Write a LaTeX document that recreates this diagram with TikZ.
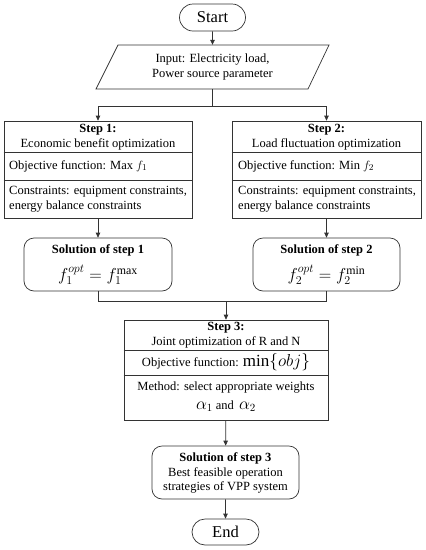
\documentclass[tikz,border=0pt]{standalone}
\usepackage{fontspec}
\setmainfont{Liberation Serif}
\usetikzlibrary{arrows.meta,shapes.misc}
\begin{document}
\begin{tikzpicture}[x=1pt,y=-1pt, font=\fontsize{12.5}{14.5}\selectfont,
  line/.style={draw=black!80, line width=0.7pt},
  arr/.style={line, -{Triangle[length=5pt,width=4.5pt]}},
  term/.style={line, rounded rectangle, inner sep=0pt, font=\fontsize{16.5}{18}\selectfont},
  box/.style={line, rectangle, inner sep=0pt},
  rbox/.style={line, rectangle, rounded corners=10pt, inner sep=0pt},
  txt/.style={inner sep=0pt, align=center},
  ltxt/.style={inner sep=0pt, align=left, anchor=west},
  mth/.style={inner sep=0pt, font=\fontsize{17}{19}\selectfont},
]
\useasboundingbox (0,0) rectangle (426,550);

% Start
\node[term, minimum width=66pt, minimum height=27pt] (start) at (212.5,17.5) {Start};

% Input
\node[txt, minimum height=44pt, minimum width=190pt] (inp) at (212.5,67) {Input: Electricity load,\\Power source parameter};
\draw[line] (118,45) -- (329,45) -- (308,89) -- (96,89) -- cycle;
\draw[arr] (start) -- (inp);

% Step 1 and Step 2 boxes
\node[box, minimum width=188pt, minimum height=97pt] (s1) at (98,169.5) {};
\node[box, minimum width=189pt, minimum height=97pt] (s2) at (326.5,169.5) {};
\draw[line] (s1.west |- 0,152) -- (s1.east |- 0,152);
\draw[line] (s1.west |- 0,180) -- (s1.east |- 0,180);
\draw[line] (s2.west |- 0,152) -- (s2.east |- 0,152);
\draw[line] (s2.west |- 0,180) -- (s2.east |- 0,180);

\node[txt] (s1a) at (98,137) {\textbf{Step 1:}\\Economic benefit optimization};
\node[ltxt] (s1b) at (9,166) {Objective function: Max $f_1$};
\node[ltxt] (s1c) at (9,199) {Constraints: equipment constraints,\\energy balance constraints};

\node[txt] (s2a) at (326.5,137) {\textbf{Step 2:}\\Load fluctuation optimization};
\node[ltxt] (s2b) at (238,166) {Objective function: Min $f_2$};
\node[ltxt] (s2c) at (238,199) {Constraints: equipment constraints,\\energy balance constraints};

% split
\coordinate (sp) at (212.5,106);
\draw[line] (inp.south) -- (sp);
\draw[arr] (sp) -| (s1);
\draw[arr] (sp) -| (s2);

% Solutions 1 and 2
\node[rbox, minimum width=148pt, minimum height=53pt] (o1) at (98,264.5) {};
\node[rbox, minimum width=147pt, minimum height=53pt] (o2) at (326.5,264.5) {};
\node[txt] (o1a) at (98,250) {\textbf{Solution of step 1}};
\node[mth] (o1b) at (98,275) {$f_1^{opt}=f_1^{\max}$};
\node[txt] (o2a) at (326.5,250) {\textbf{Solution of step 2}};
\node[mth] (o2b) at (326.5,275) {$f_2^{opt}=f_2^{\min}$};
\draw[arr] (s1) -- (o1);
\draw[arr] (s2) -- (o2);

% join
\coordinate (jn) at (226,301);
\draw[line] (o1.south) |- (jn);
\draw[line] (o2.south) |- (jn);

% Step 3
\node[box, minimum width=204pt, minimum height=100pt] (s3) at (226,370) {};
\draw[line] (s3.west |- 0,350) -- (s3.east |- 0,350);
\draw[line] (s3.west |- 0,375) -- (s3.east |- 0,375);
\node[txt] (s3a) at (226,335) {\textbf{Step 3:}\\Joint optimization of R and N};
\node[txt] (s3b) at (226,362) {Objective function: {\fontsize{17}{19}\selectfont $\min\{obj\}$}};
\node[txt] (s3c) at (226,388) {Method: select appropriate weights};
\node[txt] (s3d) at (226,406) {{\fontsize{16}{17}\selectfont $\alpha_1$} and \,{\fontsize{16}{17}\selectfont $\alpha_2$}};
\draw[arr] (jn) -- (s3);

% Solution 3
\node[rbox, minimum width=147pt, minimum height=53pt] (o3) at (225.5,472.5) {};
\node[txt] (o3a) at (225.5,473) {\textbf{Solution of step 3}\\Best feasible operation\\strategies of VPP system};
\draw[arr] (s3) -- (o3);

% End
\node[term, minimum width=67pt, minimum height=26pt] (end) at (225.5,532) {End};
\draw[arr] (o3) -- (end);
\end{tikzpicture}
\end{document}
